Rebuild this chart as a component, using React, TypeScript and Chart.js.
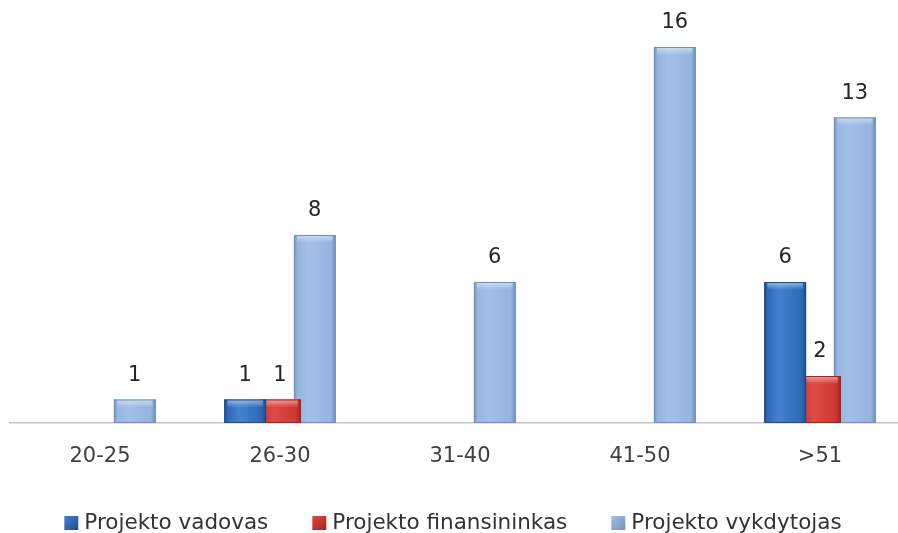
import React, { useEffect, useRef } from "react";
import { Chart, registerables } from "chart.js";

Chart.register(...registerables);

// Age groups and headcount per role
const categories = ["20-25", "26-30", "31-40", "41-50", ">51"];
const seriesNames = ["Projekto vadovas", "Projekto finansininkas", "Projekto vykdytojas"];
const vadovas: (number | null)[] = [null, 1, null, null, 6];
const finansininkas: (number | null)[] = [null, 1, null, null, 2];
const vykdytojas: (number | null)[] = [1, 8, 6, 16, 13];

const FONT = "'DejaVu Sans', sans-serif";

type Shade = { base: string; edge: string; light: string };
const shades: Shade[] = [
  { base: "#2F69B6", edge: "#1E4D8E", light: "#4481D0" },
  { base: "#D03731", edge: "#A5221E", light: "#DE4A44" },
  { base: "#96B4DF", edge: "#7290BD", light: "#A3BFE7" },
];

// Paints each bar with a glossy horizontal gradient and a bevelled top
const shadePlugin = {
  id: "barShade",
  afterDatasetDraw(chart: any, args: any) {
    const ctx = chart.ctx as CanvasRenderingContext2D;
    const ds = chart.data.datasets[args.index];
    const pal: Shade = ds.shade;
    args.meta.data.forEach((el: any, i: number) => {
      if (ds.data[i] == null) return;
      const { x, y, base, width } = el.getProps(["x", "y", "base", "width"], true);
      const left = x - width / 2;
      const top = Math.min(y, base);
      const h = Math.abs(base - y);
      ctx.save();
      const g = ctx.createLinearGradient(left, 0, left + width, 0);
      g.addColorStop(0, pal.edge);
      g.addColorStop(0.08, pal.base);
      g.addColorStop(0.35, pal.light);
      g.addColorStop(0.88, pal.base);
      g.addColorStop(1, pal.edge);
      ctx.fillStyle = g;
      ctx.fillRect(left, top, width, h);
      const bev = Math.min(8, h * 0.45);
      const tg = ctx.createLinearGradient(0, top, 0, top + bev);
      tg.addColorStop(0, "rgba(255,255,255,0.5)");
      tg.addColorStop(1, "rgba(255,255,255,0)");
      ctx.fillStyle = tg;
      ctx.fillRect(left + 3, top, width - 6, bev);
      ctx.strokeStyle = pal.edge;
      ctx.lineWidth = 1;
      ctx.strokeRect(left + 0.5, top + 0.5, width - 1, h - 1);
      ctx.restore();
    });
  },
};

// Value labels above the bars, centred on the visible part of each bar
const valueLabelPlugin = {
  id: "valueLabels",
  afterDatasetsDraw(chart: any) {
    const ctx = chart.ctx as CanvasRenderingContext2D;
    ctx.save();
    ctx.font = `21px ${FONT}`;
    ctx.fillStyle = "#262626";
    ctx.textAlign = "center";
    ctx.textBaseline = "middle";
    chart.data.datasets.forEach((ds: any, di: number) => {
      const meta = chart.getDatasetMeta(di);
      meta.data.forEach((el: any, i: number) => {
        const v = ds.data[i];
        if (v == null) return;
        const { x, y } = el.getProps(["x", "y"], true);
        ctx.fillText(String(v), x, y - 24);
      });
    });
    ctx.restore();
  },
};

// Legend row along the bottom edge
const bottomLegendPlugin = {
  id: "bottomLegend",
  afterDraw(chart: any) {
    const ctx = chart.ctx as CanvasRenderingContext2D;
    const box = 14;
    const gap = 6;
    const spacing = 44;
    const cy = 523;
    ctx.save();
    ctx.font = `21.5px ${FONT}`;
    const items = chart.data.datasets.map((ds: any) => ({
      label: ds.label as string,
      shade: ds.shade as Shade,
      w: ctx.measureText(ds.label).width,
    }));
    const total =
      items.reduce((s: number, it: any) => s + box + gap + it.w, 0) + spacing * (items.length - 1);
    let x = 453 - total / 2;
    items.forEach((it: any) => {
      const top = cy - box / 2;
      const g = ctx.createLinearGradient(x, top, x + box, top + box);
      g.addColorStop(0, it.shade.light);
      g.addColorStop(1, it.shade.edge);
      ctx.fillStyle = g;
      ctx.fillRect(x, top, box, box);
      ctx.fillStyle = "#333333";
      ctx.textAlign = "left";
      ctx.textBaseline = "middle";
      ctx.fillText(it.label, x + box + gap, cy);
      x += box + gap + it.w + spacing;
    });
    ctx.restore();
  },
};

export default function App() {
  const canvasRef = useRef<HTMLCanvasElement | null>(null);

  useEffect(() => {
    if (!canvasRef.current) return;
    const seriesData = [vadovas, finansininkas, vykdytojas];
    const chart = new Chart(canvasRef.current, {
      type: "bar",
      data: {
        labels: categories,
        datasets: seriesNames.map((name, i) => ({
          label: name,
          data: seriesData[i],
          backgroundColor: shades[i].base,
          borderWidth: 0,
          shade: shades[i],
        })) as any,
      },
      options: {
        responsive: false,
        animation: false,
        layout: { padding: { left: 10, right: 0, top: 0, bottom: 0 } },
        datasets: {
          bar: { categoryPercentage: 0.58, barPercentage: 1.2 },
        },
        plugins: {
          legend: { display: false },
          tooltip: { enabled: false },
        },
        scales: {
          x: {
            grid: { display: false },
            border: { display: true, color: "#C4C4C4", width: 1.5 },
            ticks: {
              color: "#404040",
              font: { family: FONT, size: 21 },
              padding: 13,
              maxRotation: 0,
            },
            afterFit: (scale: any) => {
              scale.height = 110;
            },
          },
          y: {
            display: false,
            min: 0,
            max: 18,
          },
        },
      },
      plugins: [shadePlugin, valueLabelPlugin, bottomLegendPlugin],
    });
    return () => chart.destroy();
  }, []);

  return (
    <div
      style={{
        position: "absolute",
        left: 0,
        top: 0,
        width: 898,
        height: 533,
        overflow: "hidden",
        background: "#ffffff",
      }}
    >
      <canvas ref={canvasRef} width={910} height={533} style={{ display: "block" }} />
    </div>
  );
}
